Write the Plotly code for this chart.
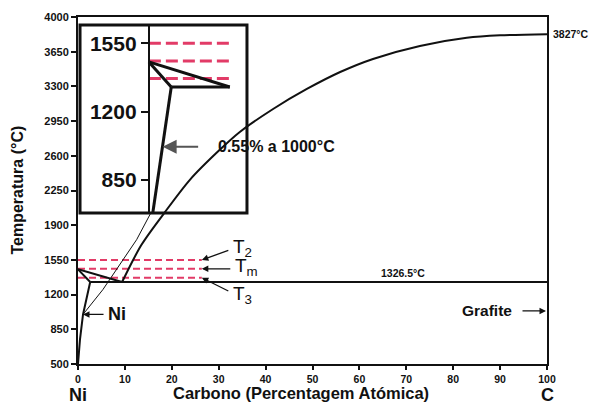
import plotly.graph_objects as go

# ---- Ni–C phase diagram (carbon in atomic %, temperature in °C) ----
x_ticks = list(range(0, 101, 10))
y_ticks = [500, 850, 1200, 1550, 1900, 2250, 2600, 2950, 3300, 3650, 4000]

# liquidus on the graphite side, eutectic up to the melting point of carbon
liq_c_x = [9.4, 13.5, 18.5, 23.9, 30.0, 34.5, 41.6, 48.8, 55.9, 62.9, 72.9, 82.9, 90.0, 100.0]
liq_c_t = [1326.5, 1700, 2030, 2360, 2650, 2840, 3072, 3274, 3445, 3577, 3708, 3790, 3815, 3827]

# nickel-rich side
liq_ni_x = [0.0, 9.4]
liq_ni_t = [1455, 1326.5]
sol_ni_x = [0.0, 2.6]
sol_ni_t = [1455, 1326.5]
solvus_x = [2.6, 1.07, 0.43, 0.0]
solvus_t = [1326.5, 1000, 752, 500]
eutectic_x = [2.6, 100.0]
eutectic_t = [1326.5, 1326.5]

# thin guide line starting at the solvus
guide_x = [1.07, 5.3, 12.5, 15.6]
guide_t = [1000, 1250, 1754, 2030]

# reference temperatures
temp_names = ["T<sub>2</sub>", "T<sub>m</sub>", "T<sub>3</sub>"]
temp_values = [1550, 1460, 1370]
temp_line_end = 26.4

# detail view of the nickel corner
ins_ticks = [850, 1200, 1550]
ins_liq_x = [0.0, 9.4]
ins_liq_t = [1455, 1326.5]
ins_sol_x = [0.0, 2.6]
ins_sol_t = [1455, 1326.5]
ins_eut_x = [2.6, 9.4]
ins_eut_t = [1326.5, 1326.5]
ins_solvus_x = [2.6, 1.6, 0.45]
ins_solvus_t = [1326.5, 1020, 680]
ins_point = (1.6, 1020)

INK = "#111111"
PINK = "#e23b67"
FONT = "Liberation Sans, Arial, sans-serif"

fig = go.Figure()


def line(x, y, width, color=INK, dash=None, xa="x", ya="y", shape="linear"):
    fig.add_trace(go.Scatter(
        x=x, y=y, mode="lines", xaxis=xa, yaxis=ya,
        line=dict(color=color, width=width, dash=dash, shape=shape, smoothing=0.8),
        hoverinfo="skip", showlegend=False))


# main diagram
for t in temp_values:
    line([0, temp_line_end], [t, t], 2, PINK, dash="7px,4px")
line(guide_x, guide_t, 1)
line(liq_ni_x, liq_ni_t, 2)
line(sol_ni_x, sol_ni_t, 2)
line(solvus_x, solvus_t, 2)
line(eutectic_x, eutectic_t, 2)
line(liq_c_x, liq_c_t, 2, shape="spline")

# detail view
for t in temp_values:
    line([0, ins_eut_x[-1]], [t, t], 3, PINK, dash="12px,5px", xa="x2", ya="y2")
line(ins_liq_x, ins_liq_t, 3, xa="x2", ya="y2")
line(ins_sol_x, ins_sol_t, 3, xa="x2", ya="y2")
line(ins_eut_x, ins_eut_t, 3, xa="x2", ya="y2")
line(ins_solvus_x, ins_solvus_t, 3, xa="x2", ya="y2")

bold = dict(family=FONT, color=INK, weight="bold")

fig.update_layout(
    width=589, height=407,
    margin=dict(l=78, r=42, t=17, b=43),
    paper_bgcolor="white", plot_bgcolor="rgba(0,0,0,0)",
    showlegend=False,
    font=dict(family=FONT, color=INK),
    xaxis=dict(
        domain=[0, 1], range=[0, 100], tickvals=x_ticks,
        ticks="outside", ticklen=4, tickwidth=1.5, tickcolor=INK,
        showline=True, linewidth=2, linecolor=INK, mirror=True,
        showgrid=False, zeroline=False,
        tickfont=dict(size=10.5, **bold)),
    yaxis=dict(
        domain=[0, 1], range=[500, 4000], tickvals=y_ticks,
        ticks="outside", ticklen=5, tickwidth=1.5, tickcolor=INK,
        showline=True, linewidth=2, linecolor=INK, mirror=True,
        showgrid=False, zeroline=False,
        tickfont=dict(size=11, **bold)),
    xaxis2=dict(
        domain=[0.0043, 0.3603], range=[-8.0, 11.4], anchor="y2",
        visible=False, showgrid=False, zeroline=False),
    yaxis2=dict(
        domain=[0.435, 0.977], range=[681, 1644], anchor="free", position=0.151,
        tickvals=ins_ticks, ticks="outside", ticklen=7, tickwidth=2, tickcolor=INK,
        showline=True, linewidth=2, linecolor=INK,
        showgrid=False, zeroline=False,
        tickfont=dict(size=21, **bold)),
)

# frame of the detail view
fig.add_shape(type="rect", xref="paper", yref="paper",
              x0=0.0043, x1=0.3603, y0=0.435, y1=0.977,
              line=dict(color=INK, width=3), fillcolor="rgba(0,0,0,0)", layer="above")

ann = []

# axis titles and end-member labels
ann.append(dict(text="Carbono (Percentagem Atómica)", xref="paper", yref="paper",
                x=0.4755, y=-0.084, xanchor="center", yanchor="middle", showarrow=False,
                font=dict(size=16.5, **bold)))
ann.append(dict(text="Temperatura (°C)", xref="paper", yref="paper",
                x=-0.13, y=0.50, xanchor="center", yanchor="middle", showarrow=False,
                textangle=-90, font=dict(size=16, **bold)))
ann.append(dict(text="Ni", xref="x", yref="paper", x=0, y=-0.088,
                xanchor="center", yanchor="middle", showarrow=False,
                font=dict(size=18, **bold)))
ann.append(dict(text="C", xref="x", yref="paper", x=100, y=-0.088,
                xanchor="center", yanchor="middle", showarrow=False,
                font=dict(size=18, **bold)))

# temperature labels
ann.append(dict(text="3827°C", xref="x", yref="y", x=100, y=liq_c_t[-1],
                xanchor="left", yanchor="middle", xshift=4, showarrow=False,
                font=dict(size=10.5, **bold)))
ann.append(dict(text="1326.5°C", xref="x", yref="y", x=69.3, y=eutectic_t[0],
                xanchor="center", yanchor="bottom", yshift=1, showarrow=False,
                font=dict(size=10.5, **bold)))

# T2 / Tm / T3 arrows and labels
offsets = [(28, -10), (30, 0), (28, 14)]
label_shift = [(-9, 0), (-7, 0), (-9, -5)]
for name, t, (ax, ay), (lx, ly) in zip(temp_names, temp_values, offsets, label_shift):
    ann.append(dict(text="", xref="x", yref="y", x=temp_line_end, y=t,
                    ax=ax, ay=ay, showarrow=True, arrowhead=2, arrowsize=1,
                    arrowwidth=1.3, arrowcolor=INK, standoff=0))
    ann.append(dict(text=name, xref="x", yref="y", x=temp_line_end, y=t,
                    xanchor="left", yanchor="middle",
                    xshift=ax + 1, yshift=-ay + ly + 2, showarrow=False,
                    font=dict(size=19, family=FONT, color=INK)))

# Ni solubility arrow
ann.append(dict(text="", xref="x", yref="y", x=guide_x[0], y=guide_t[0],
                ax=22, ay=0, showarrow=True, arrowhead=2, arrowsize=1,
                arrowwidth=1.3, arrowcolor=INK, standoff=0))
ann.append(dict(text="Ni", xref="x", yref="y", x=guide_x[0], y=guide_t[0],
                xanchor="left", yanchor="middle", xshift=23, showarrow=False,
                font=dict(size=18, **bold)))

# graphite arrow
ann.append(dict(text="", xref="x", yref="y", x=100, y=1035,
                ax=-26, ay=0, showarrow=True, arrowhead=2, arrowsize=1,
                arrowwidth=1.3, arrowcolor=INK, standoff=1))
ann.append(dict(text="Grafite", xref="x", yref="y", x=100, y=1035,
                xanchor="right", yanchor="middle", xshift=-33, showarrow=False,
                font=dict(size=15.5, **bold)))

# solubility point in the detail view
ann.append(dict(text="", xref="x2", yref="y2", x=ins_point[0], y=ins_point[1],
                ax=37, ay=0, showarrow=True, arrowhead=2, arrowsize=1.4,
                arrowwidth=2, arrowcolor="#555555", standoff=0))
ann.append(dict(text="0.55% a 1000°C", xref="x2", yref="y2", x=ins_point[0], y=ins_point[1],
                xanchor="left", yanchor="middle", xshift=53, showarrow=False,
                font=dict(size=16, **bold)))

fig.update_layout(annotations=ann)

fig.write_html("out.html")
